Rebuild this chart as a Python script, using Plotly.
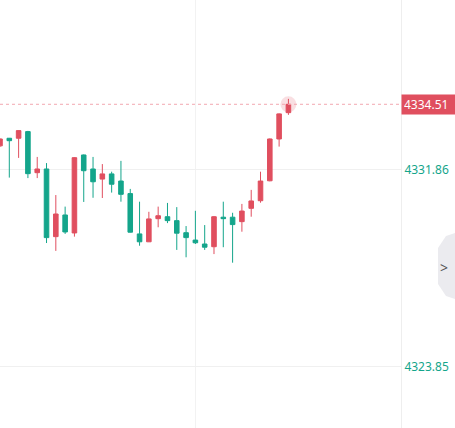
""" Intraday candlestick snapshot """

import plotly.graph_objects as go

# candle index (one bar per period)
bars = list(range(32))

opens = [4332.82, 4333.13, 4333.13, 4333.40, 4331.73, 4331.88, 4329.13, 4330.01,
         4329.28, 4332.45, 4331.88, 4331.47, 4331.68, 4331.39, 4330.88, 4329.24,
         4328.92, 4329.86, 4329.94, 4329.78, 4329.29, 4328.99, 4328.83, 4328.72,
         4329.92, 4329.92, 4329.74, 4330.28, 4330.59, 4331.40, 4333.10, 4334.17]
highs = [4333.12, 4333.14, 4333.45, 4333.43, 4332.37, 4332.12, 4330.82, 4330.35,
         4332.36, 4332.47, 4332.37, 4332.08, 4331.77, 4332.21, 4331.07, 4330.55,
         4330.14, 4330.35, 4330.50, 4330.33, 4329.56, 4330.18, 4329.60, 4329.97,
         4330.55, 4330.10, 4330.46, 4331.03, 4331.77, 4333.12, 4334.14, 4334.73]
lows = [4332.78, 4331.53, 4332.33, 4331.51, 4331.51, 4328.87, 4328.55, 4329.24,
        4329.13, 4330.54, 4330.71, 4330.70, 4330.92, 4330.55, 4329.30, 4328.76,
        4328.91, 4329.51, 4329.68, 4328.59, 4328.29, 4328.83, 4328.59, 4328.42,
        4328.70, 4328.07, 4329.33, 4329.94, 4330.51, 4331.38, 4332.79, 4334.08]
closes = [4333.10, 4333.03, 4333.44, 4331.69, 4331.88, 4329.09, 4330.05, 4329.32,
          4332.34, 4331.81, 4331.36, 4331.68, 4331.26, 4330.85, 4329.31, 4328.92,
          4329.85, 4329.98, 4329.78, 4329.27, 4329.09, 4328.88, 4328.70, 4329.94,
          4329.86, 4329.62, 4330.17, 4330.58, 4331.39, 4333.10, 4334.12, 4334.51]

price_ticks = [4339.87, 4331.86, 4323.85]
last_price = closes[-1]

UP = "#e04f5f"
DOWN = "#14a58b"
FONT = "Noto Sans"

fig = go.Figure()

# soft glow on the latest bar
fig.add_trace(go.Scatter(
    x=[bars[-1]], y=[last_price], mode="markers",
    marker=dict(size=16, color="rgba(224,79,95,0.18)", line=dict(width=0)),
    hoverinfo="skip", showlegend=False,
))

fig.add_trace(go.Candlestick(
    x=bars, open=opens, high=highs, low=lows, close=closes,
    increasing=dict(line=dict(color=UP, width=1), fillcolor=UP),
    decreasing=dict(line=dict(color=DOWN, width=1), fillcolor=DOWN),
    whiskerwidth=0, showlegend=False,
))

# last price dotted line
fig.add_hline(y=last_price, line=dict(color="#f2a7b0", width=1, dash="dot"))

fig.add_annotation(
    x=1, xref="paper", y=last_price, yref="y", xanchor="left", yanchor="middle",
    text=str(last_price), showarrow=False, align="left",
    font=dict(family=FONT, size=12, color="white"),
    bgcolor=UP, width=50, height=15, borderpad=2,
)

# collapse tab on the right edge
fig.add_shape(
    type="path", xref="paper", yref="paper",
    path="M 1.1347,0.4556 L 1.1122,0.4486 L 1.0923,0.4206 L 1.0923,0.3364 "
         "L 1.1122,0.3084 L 1.1347,0.3014 Z",
    fillcolor="#ebebef", line=dict(width=0), layer="above",
)
fig.add_annotation(
    x=1.122, xref="paper", y=0.376, yref="paper", text=">", showarrow=False,
    font=dict(family=FONT, size=14, color="#555555"),
)

fig.update_layout(
    width=455, height=428,
    margin=dict(l=0, r=54, t=0, b=0, autoexpand=False),
    paper_bgcolor="white", plot_bgcolor="white",
    showlegend=False,
    xaxis=dict(
        range=[0, 43.1], rangeslider=dict(visible=False),
        showticklabels=False, tickvals=[21], showgrid=True,
        gridcolor="#f2f2f2", zeroline=False, showline=False,
    ),
    yaxis=dict(
        range=[4321.35, 4338.75], side="right", tickvals=price_ticks,
        ticktext=[f"{v:.2f}" for v in price_ticks],
        tickfont=dict(family=FONT, size=12, color=DOWN),
        showgrid=True, gridcolor="#f0f0f0", zeroline=False,
        showline=True, linecolor="#eeeeee", ticks="", ticklabelstandoff=0,
    ),
)

# the page body margin would shift the chart off its 455x428 window
fig.write_html(
    "out.html",
    config={"displayModeBar": False},
    post_script="document.body.style.margin = '0';",
)
